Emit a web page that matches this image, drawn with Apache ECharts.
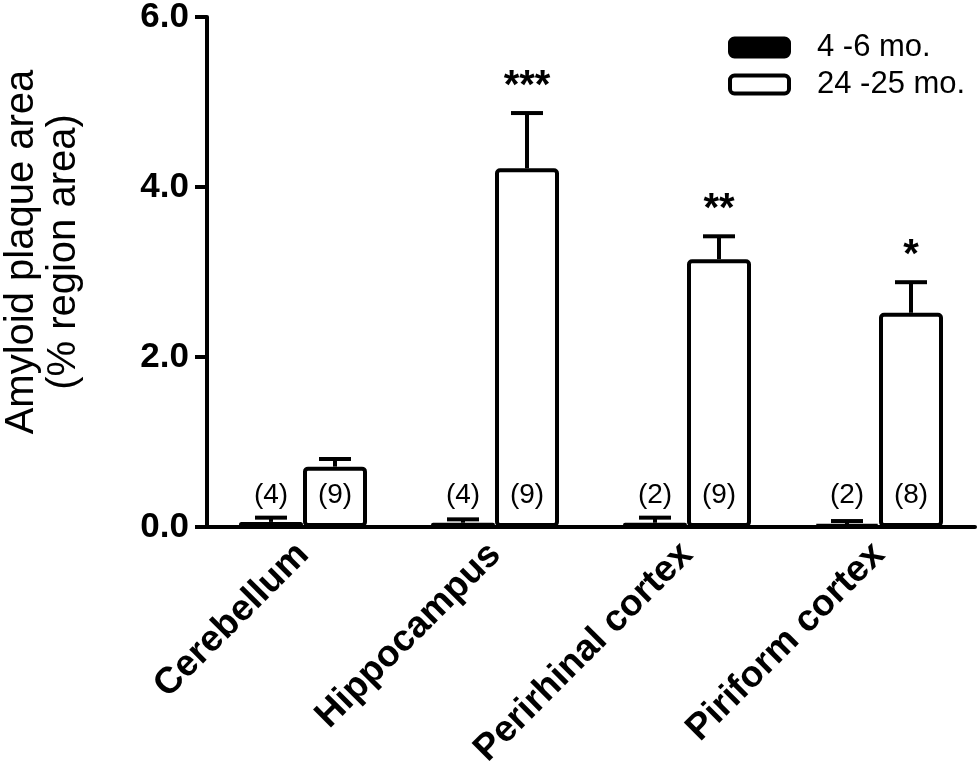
<!DOCTYPE html>
<html>
<head>
<meta charset="utf-8">
<script src="https://cdn.jsdelivr.net/npm/echarts@6/dist/echarts.min.js"></script>
<style>
html,body{margin:0;padding:0;background:#fff;}
#chart{width:977px;height:771px;}
</style>
</head>
<body>
<div id="chart"></div>
<script>
var categories = ['Cerebellum', 'Hippocampus', 'Perirhinal cortex', 'Piriform cortex'];
var seriesNames = ['4 -6 mo.', '24 -25 mo.'];
var youngMean = [0.06, 0.05, 0.05, 0.03];
var youngSem = [0.05, 0.04, 0.06, 0.04];
var youngN = [4, 4, 2, 2];
var oldMean = [0.71, 4.22, 3.15, 2.52];
var oldSem = [0.09, 0.65, 0.27, 0.36];
var oldN = [9, 9, 9, 8];
var stars = ['', '***', '**', '*'];
var yTicks = [0, 2, 4, 6];

var FONT = '"Liberation Sans", Arial, sans-serif';
var BAR_W = 64;

function errData(mean, sem) {
  return mean.map(function (m, i) { return [i, m, sem[i]]; });
}

function errRender(side, labels) {
  return function (params, api) {
    var i = api.value(0), m = api.value(1), s = api.value(2);
    var lbl = labels ? labels[params.dataIndex] : '';
    var base = api.coord([i, m]);
    var top = api.coord([i, m + s]);
    var x = base[0] + side * BAR_W / 2;
    var children = [
      { type: 'line', shape: { x1: x, y1: base[1], x2: x, y2: top[1] },
        style: { stroke: '#000', lineWidth: 4 } },
      { type: 'line', shape: { x1: x - 16, y1: top[1], x2: x + 16, y2: top[1] },
        style: { stroke: '#000', lineWidth: 4 } }
    ];
    if (lbl) {
      children.push({ type: 'text', x: x, y: top[1] - 26,
        style: { text: lbl, fill: '#000', font: 'bold 40px ' + FONT,
          align: 'center', verticalAlign: 'middle' } });
    }
    return { type: 'group', children: children };
  };
}

var chart = echarts.init(document.getElementById('chart'), null, { renderer: 'canvas' });
chart.setOption({
  animation: false,
  backgroundColor: '#fff',
  textStyle: { fontFamily: FONT },
  grid: { left: 207, right: 2, top: 17, bottom: 244, containLabel: false, outerBoundsMode: 'none' },
  legend: {
    orient: 'vertical', left: 728, top: 32, padding: 0,
    itemWidth: 59, itemHeight: 18, itemGap: 6,
    icon: 'roundRect',
    textStyle: { fontSize: 31, color: '#000', fontFamily: FONT, padding: [0, 0, 0, 23] },
    data: [
      { name: seriesNames[0], itemStyle: { color: '#000', borderColor: '#000', borderWidth: 4 } },
      { name: seriesNames[1], itemStyle: { color: '#fff', borderColor: '#000', borderWidth: 4 } }
    ]
  },
  xAxis: {
    type: 'category',
    data: categories,
    axisLine: { show: true, lineStyle: { color: '#000', width: 4 } },
    axisTick: { show: false },
    axisLabel: { rotate: 45, interval: 0, margin: 22, color: '#000',
      fontSize: 37, fontWeight: 'bold', fontFamily: FONT }
  },
  yAxis: {
    type: 'value',
    min: yTicks[0], max: yTicks[yTicks.length - 1], interval: 2,
    name: 'Amyloid plaque area\n(% region area)',
    nameLocation: 'middle', nameGap: 122,
    nameTextStyle: { fontSize: 40, lineHeight: 42, color: '#000', fontFamily: FONT,
      padding: [0, 0, 0, 40] },
    axisLine: { show: true, lineStyle: { color: '#000', width: 4 } },
    axisTick: { show: true, length: 12, lineStyle: { color: '#000', width: 4 } },
    splitLine: { show: false },
    axisLabel: { margin: 18, color: '#000', fontSize: 35, fontWeight: 'bold', fontFamily: FONT,
      formatter: function (v) { return v.toFixed(1); } }
  },
  series: [
    {
      name: seriesNames[0], type: 'bar', data: youngMean,
      barWidth: BAR_W, barGap: '0%', z: 3,
      itemStyle: { color: '#000', borderColor: '#000', borderWidth: 4, borderRadius: 3 },
      label: { show: true, position: 'insideBottom', distance: 18, color: '#000',
        fontSize: 28, fontFamily: FONT,
        formatter: function (p) { return '(' + youngN[p.dataIndex] + ')'; } }
    },
    {
      name: seriesNames[1], type: 'bar', data: oldMean,
      barWidth: BAR_W, barGap: '0%', z: 3,
      itemStyle: { color: '#fff', borderColor: '#000', borderWidth: 4, borderRadius: 3 },
      label: { show: true, position: 'insideBottom', distance: 18, color: '#000',
        fontSize: 28, fontFamily: FONT,
        formatter: function (p) { return '(' + oldN[p.dataIndex] + ')'; } }
    },
    {
      type: 'custom', name: 'errYoung', z: 2, silent: true,
      renderItem: errRender(-1, null),
      encode: { x: 0, y: 1 },
      data: errData(youngMean, youngSem)
    },
    {
      type: 'custom', name: 'errOld', z: 2, silent: true,
      renderItem: errRender(1, stars),
      encode: { x: 0, y: 1 },
      data: errData(oldMean, oldSem)
    }
  ]
});
</script>
</body>
</html>
